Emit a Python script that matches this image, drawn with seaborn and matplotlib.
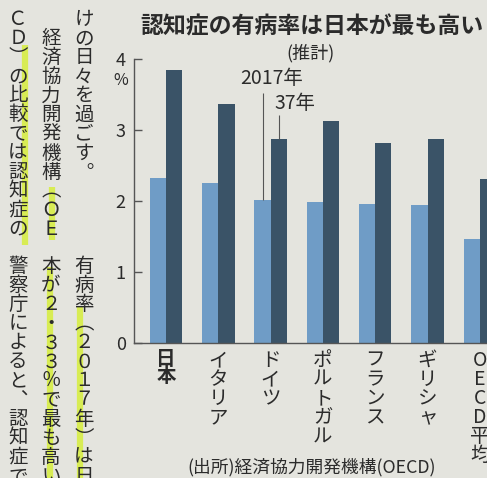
import matplotlib
matplotlib.use("Agg")
import matplotlib.pyplot as plt
import seaborn as sns
import pandas as pd

# ---- data ----
countries = ["日本", "イタリア", "ドイツ", "ポルトガル", "フランス", "ギリシャ", "OECD平均"]
years = ["2017年", "37年"]
rate_2017 = [2.33, 2.25, 2.02, 1.99, 1.96, 1.95, 1.47]
rate_2037 = [3.85, 3.37, 2.88, 3.13, 2.82, 2.88, 2.31]
yticks = [0, 1, 2, 3, 4]

title = "認知症の有病率は日本が最も高い"
subtitle = "(推計)"
source = "(出所)経済協力開発機構(OECD)"

# surrounding newspaper body text (vertical columns, right to left)
body_top = ["けの日々を過ごす︒", "　経済協力開発機構︵ＯＥ", "ＣＤ︶の比較では認知症の"]
body_bottom = ["有病率︵２０１７年︶は日", "本が２・３３％で最も高い︒", "警察庁によると︑認知症で"]

LIGHT = "#6f9cc6"
DARK = "#3a5367"
BG = "#e4e4de"
TXT = "#2b2b2b"
GRID = "#555555"

sns.set_style("ticks")
plt.rcParams["font.family"] = ["Noto Sans CJK JP", "DejaVu Sans"]
plt.rcParams["text.color"] = TXT
plt.rcParams["axes.labelcolor"] = TXT
plt.rcParams["xtick.color"] = TXT
plt.rcParams["ytick.color"] = TXT

df = pd.DataFrame({
    "country": countries * 2,
    "year": [years[0]] * len(countries) + [years[1]] * len(countries),
    "rate": rate_2017 + rate_2037,
})

fig = plt.figure(figsize=(4.87, 4.78), dpi=100)
fig.patch.set_facecolor(BG)

# background layer in pixel coordinates for page text
bg = fig.add_axes([0, 0, 1, 1], zorder=0)
bg.set_xlim(0, 487)
bg.set_ylim(478, 0)
bg.axis("off")

ax = fig.add_axes([134 / 487, 135 / 478, (512 - 134) / 487, 284 / 478], zorder=1)
ax.patch.set_alpha(0)

W = 0.62
sns.barplot(data=df, x="country", y="rate", hue="year", order=countries,
            hue_order=years, palette=[LIGHT, DARK], width=W, gap=0,
            saturation=1, legend=False, ax=ax, edgecolor="none", linewidth=0)

ax.set_xlim(-0.612, 6.615)
ax.set_ylim(0, 4)
ax.set_yticks(yticks)
ax.set_yticklabels([str(t) for t in yticks])
ax.set_xlabel("")
ax.set_ylabel("")
for s in ["top", "right"]:
    ax.spines[s].set_visible(False)
for s in ["left", "bottom"]:
    ax.spines[s].set_color(GRID)
    ax.spines[s].set_linewidth(1.0)
ax.tick_params(axis="y", direction="in", length=6, width=1, color=GRID,
               labelsize=13, pad=6)
ax.tick_params(axis="x", length=0, pad=5)
ax.set_xticks(range(len(countries)))
ax.set_xticklabels(["\n".join(c) for c in countries], fontsize=14,
                   linespacing=0.88, va="top")
ax.get_xticklabels()[0].set_fontweight("bold")

# leader labels for the two series (Germany group)
gx = countries.index("ドイツ")
ax.vlines(gx - W / 4, rate_2017[gx], 3.52, color=GRID, lw=0.8)
ax.vlines(gx + W / 4, rate_2037[gx], 3.21, color=GRID, lw=0.8)
ax.text(gx + 0.01, 3.73, years[0], fontsize=14, ha="center", va="center")
ax.text(gx + 0.47, 3.38, years[1], fontsize=14, ha="center", va="center")

# titles / notes
bg.text(312, 27, title, fontsize=16.5, fontweight="bold", ha="center", va="center")
bg.text(311, 53, subtitle, fontsize=13, ha="center", va="center")
bg.text(121, 80, "%", fontsize=11.5, ha="center", va="center")
bg.text(312, 467, source, fontsize=12.8, ha="center", va="center")

# highlighter marks
HL = "#d6ee3c"
for x0, y0, y1 in [(25, 45, 245), (52, 187, 240), (50, 267, 478), (80, 307, 478)]:
    bg.plot([x0, x0], [y0, y1], color=HL, lw=4.5, alpha=0.85, solid_capstyle="butt", zorder=1)

# body text columns
col_x = [84, 51, 18]
for x0, s in zip(col_x, body_top):
    bg.text(x0, 9, "\n".join(s), fontsize=14, ha="center", va="top",
            linespacing=0.88, zorder=2)
for x0, s in zip(col_x, body_bottom):
    bg.text(x0, 256, "\n".join(s), fontsize=14, ha="center", va="top",
            linespacing=0.88, zorder=2)

fig.savefig("out.png", dpi=100, facecolor=BG)
